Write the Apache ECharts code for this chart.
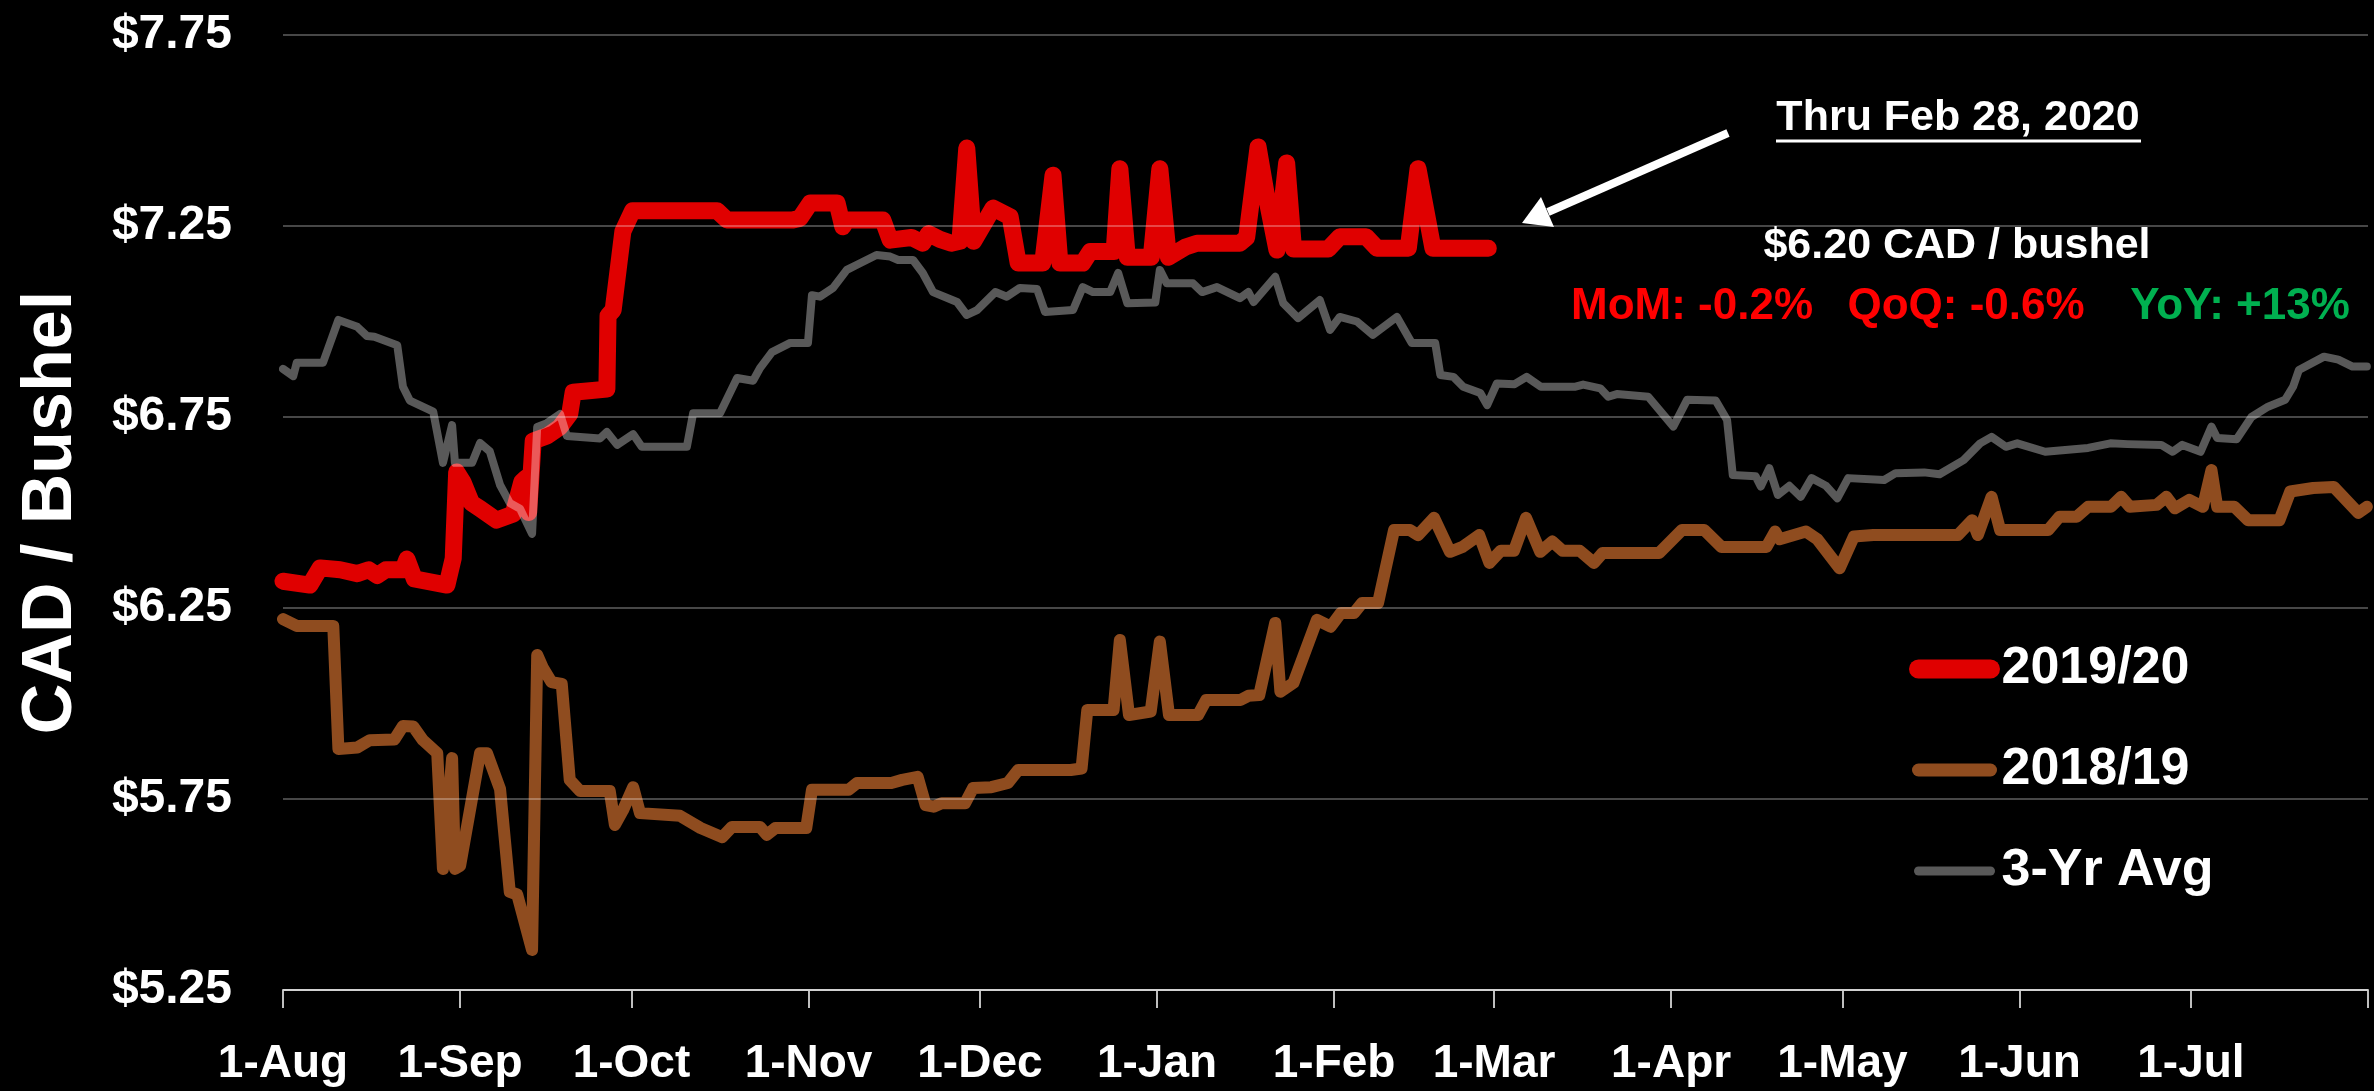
<!DOCTYPE html>
<html>
<head>
<meta charset="utf-8">
<script src="https://cdn.jsdelivr.net/npm/echarts@6/dist/echarts.min.js"></script>
<style>
  html, body { margin: 0; padding: 0; background: #000; }
  #chart { width: 2374px; height: 1091px; }
</style>
</head>
<body>
<div id="chart"></div>
<script>
// Crop-year calendar: day 0 = 1 Aug, day 365 = 1 Aug of the next year
const monthTickDays = [0, 31, 61, 92, 122, 153, 184, 212, 243, 273, 304, 334];
const monthTickLabels = ['1-Aug', '1-Sep', '1-Oct', '1-Nov', '1-Dec', '1-Jan',
                         '1-Feb', '1-Mar', '1-Apr', '1-May', '1-Jun', '1-Jul'];
const yearEndDay = 365;
const priceTicks = [5.25, 5.75, 6.25, 6.75, 7.25, 7.75];

// 2019/20 season, CAD per bushel (through 28 Feb)
const days1920 = [0, 4.7, 6.5, 10, 13, 15, 16.5, 18, 21, 21.7, 23, 28.7, 29.8, 30.4, 31.5, 33, 34.5, 37.4, 40.3,
  41.8, 42.5, 43, 43.8, 46.2, 48.5, 50.2, 50.8, 56.7, 56.9, 57.8, 59.5, 61.2, 76, 77.7, 89.3, 90.5, 92.3, 97,
  98, 98.7, 105, 106.3, 110, 112, 113, 115, 117, 118.5, 119.7, 120.9, 124.3, 127.3, 128.7, 133, 134.8, 136,
  140, 141.3, 145.5, 146.5, 147.8, 152, 153.5, 155, 158, 160, 167.5, 168.7, 170.7, 172.5, 174, 175.7, 176.9,
  183, 185, 189.6, 191.5, 197, 198.7, 201.3, 211];
const price1920 = [6.32, 6.31, 6.355, 6.35, 6.34, 6.35, 6.335, 6.35, 6.35, 6.378, 6.326, 6.31, 6.38, 6.606, 6.58,
  6.525, 6.51, 6.48, 6.496, 6.58, 6.59, 6.50, 6.687, 6.70, 6.724, 6.758, 6.815, 6.823, 7.015, 7.03, 7.236, 7.29,
  7.29, 7.266, 7.266, 7.27, 7.31, 7.31, 7.248, 7.266, 7.266, 7.213, 7.22, 7.205, 7.23, 7.215, 7.205, 7.21, 7.454,
  7.21, 7.297, 7.274, 7.153, 7.153, 7.383, 7.153, 7.153, 7.183, 7.183, 7.40, 7.168, 7.168, 7.40, 7.168, 7.195,
  7.205, 7.205, 7.22, 7.457, 7.30, 7.187, 7.415, 7.19, 7.19, 7.222, 7.222, 7.192, 7.192, 7.40, 7.192, 7.192];

// 2018/19 season
const days1819 = [0, 2.4, 8.8, 9.7, 13, 15.2, 19.5, 21, 22.8, 24.5, 27, 28, 29.6, 30.1, 31, 34.5, 35.7, 38, 39.7,
  41, 43.6, 44.5, 45.5, 47, 48.8, 50.2, 52, 57.2, 58.1, 59.5, 61.3, 62.5, 69.5, 73.1, 76.9, 78.6, 83.5, 84.7,
  86.2, 91.6, 92.6, 99, 100.5, 106.5, 108.4, 111.1, 112.5, 113.9, 115.3, 119.4, 120.8, 124, 126.9, 128.7,
  137.9, 139.8, 140.8, 145.4, 146.5, 148.1, 151.9, 153.5, 155.1, 160.2, 161.6, 167.6, 169, 170.9, 173.7,
  174.6, 176.9, 181, 183.4, 185.2, 187.5, 188.9, 191.7, 194.5, 197.3, 198.7, 201.5, 204.3, 206.5, 209.4,
  211.2, 213.2, 215.5, 217.6, 220.1, 222.2, 224, 227, 229.5, 231, 240.9, 244.9, 248.8, 251.8, 259.7, 261.2,
  262, 266.6, 268.6, 272.5, 275, 278.4, 293.2, 295.7, 296.7, 299.1, 300.6, 309, 311, 314, 316, 320, 321.8,
  323.3, 328, 329.7, 331.2, 333.7, 336.1, 337.6, 338.6, 341.6, 344, 349.5, 351.4, 355.4, 359, 363.3, 364.8];
const price1819 = [6.221, 6.203, 6.203, 5.881, 5.885, 5.904, 5.906, 5.941, 5.94, 5.904, 5.87, 5.567, 5.857, 5.567,
  5.575, 5.87, 5.87, 5.776, 5.507, 5.50, 5.355, 6.127, 6.093, 6.056, 6.051, 5.80, 5.771, 5.771, 5.682, 5.72,
  5.781, 5.713, 5.706, 5.674, 5.65, 5.677, 5.677, 5.656, 5.674, 5.674, 5.774, 5.774, 5.792, 5.792, 5.80, 5.808,
  5.734, 5.73, 5.739, 5.739, 5.779, 5.781, 5.792, 5.826, 5.826, 5.83, 5.983, 5.983, 6.166, 5.97, 5.979, 6.162,
  5.97, 5.97, 6.009, 6.009, 6.02, 6.022, 6.211, 6.031, 6.054, 6.219, 6.201, 6.237, 6.237, 6.263, 6.263, 6.454,
  6.454, 6.441, 6.486, 6.397, 6.41, 6.441, 6.368, 6.40, 6.40, 6.486, 6.397, 6.424, 6.40, 6.40, 6.368, 6.394,
  6.394, 6.454, 6.454, 6.41, 6.41, 6.45, 6.43, 6.45, 6.43, 6.354, 6.437, 6.441, 6.441, 6.48, 6.441, 6.541,
  6.454, 6.454, 6.489, 6.489, 6.515, 6.515, 6.541, 6.515, 6.52, 6.541, 6.511, 6.533, 6.515, 6.611, 6.515,
  6.515, 6.48, 6.48, 6.555, 6.564, 6.567, 6.499, 6.515];

// Three-year average
const daysAvg = [0, 1.8, 2.4, 7, 9.7, 13, 14.7, 16, 20, 21, 22.2, 26.3, 28, 29.6, 30.1, 33.1, 34.5, 36.2, 38, 39.7,
  41.5, 43.6, 44.5, 46.2, 48.5, 49.7, 55.5, 56.7, 58.5, 61.3, 62.8, 70.7, 71.8, 76.5, 79.5, 82.3, 83.5, 85.6,
  88.8, 91.9, 92.6, 94, 96.3, 98.7, 100.4, 103.9, 106.3, 107.7, 110.3, 112, 113.8, 118, 119.7, 121.5, 124.7,
  126.7, 129, 132, 133.4, 138.3, 140, 141.8, 144.8, 146.2, 147.8, 152.7, 153.5, 154.7, 159.3, 160.9, 163.5,
  167.5, 169, 169.9, 173.7, 175.1, 177.7, 181.5, 183.3, 185, 188, 190.8, 195, 197.6, 201.7, 202.6, 204.9,
  206.6, 209.6, 210.8, 212.5, 215.6, 217.7, 220.2, 226.1, 227.6, 230.6, 232, 233.5, 239, 243.4, 245.8, 250.8,
  252.8, 253.8, 257.8, 258.7, 260.2, 261.7, 263.7, 265.7, 267.6, 270.1, 272.1, 274, 280.3, 282.3, 287.3, 290,
  294.2, 297.1, 299.1, 301.6, 303.6, 308.5, 316, 319.9, 322.9, 328.8, 330.8, 332.5, 335.7, 337.6, 338.6, 342,
  344.6, 347.5, 350.5, 351.9, 352.9, 357.3, 359.8, 362.3, 364.8];
const priceAvg = [6.876, 6.857, 6.892, 6.892, 7.004, 6.986, 6.962, 6.96, 6.938, 6.829, 6.793, 6.764, 6.63, 6.729,
  6.63, 6.63, 6.682, 6.66, 6.572, 6.525, 6.51, 6.444, 6.724, 6.734, 6.758, 6.70, 6.694, 6.711, 6.677, 6.705,
  6.672, 6.672, 6.76, 6.76, 6.852, 6.845, 6.878, 6.92, 6.944, 6.944, 7.069, 7.065, 7.088, 7.135, 7.148, 7.174,
  7.17, 7.161, 7.161, 7.127, 7.077, 7.051, 7.017, 7.03, 7.077, 7.065, 7.088, 7.085, 7.025, 7.03, 7.09, 7.077,
  7.077, 7.127, 7.048, 7.05, 7.135, 7.10, 7.10, 7.077, 7.09, 7.061, 7.077, 7.051, 7.117, 7.048, 7.009, 7.056,
  6.978, 7.012, 7.0, 6.965, 7.012, 6.944, 6.944, 6.86, 6.855, 6.829, 6.813, 6.781, 6.838, 6.836, 6.855, 6.829,
  6.829, 6.835, 6.825, 6.803, 6.81, 6.803, 6.725, 6.795, 6.793, 6.742, 6.598, 6.595, 6.568, 6.616, 6.546, 6.57,
  6.541, 6.59, 6.57, 6.537, 6.59, 6.585, 6.603, 6.605, 6.60, 6.637, 6.681, 6.698, 6.672, 6.681, 6.659, 6.669,
  6.681, 6.679, 6.677, 6.659, 6.677, 6.659, 6.725, 6.695, 6.692, 6.75, 6.777, 6.795, 6.83, 6.873, 6.908, 6.90,
  6.882, 6.882];

const FONT = '"Liberation Sans", Arial, sans-serif';
const pairs = (xs, ys) => xs.map((x, i) => [x, ys[i]]);
const labelFor = v => monthTickLabels[monthTickDays.indexOf(v)] || '';

const RED = '#e00000';
const BROWN = '#8f4c1f';
const GREY = 'rgba(255,255,255,0.35)';

const chart = echarts.init(document.getElementById('chart'), null, { renderer: 'canvas' });

function note(text, x, y, color, size) {
  return {
    type: 'text', z: 20,
    style: { text: text, x: x, y: y, fill: color,
             font: 'bold ' + size + 'px ' + FONT, align: 'center', verticalAlign: 'middle',
             textAlign: 'center', textVerticalAlign: 'middle' }
  };
}

chart.setOption({
  backgroundColor: '#000000',
  animation: false,
  textStyle: { fontFamily: FONT },
  grid: { left: 283, right: 6, top: 35, bottom: 101, containLabel: false },
  xAxis: {
    type: 'value',
    min: 0,
    max: yearEndDay,
    axisLine: { show: true, lineStyle: { color: '#bfbfbf', width: 2 } },
    axisTick: {
      show: true,
      customValues: monthTickDays.concat([yearEndDay]),
      length: 18,
      lineStyle: { color: '#bfbfbf', width: 2 }
    },
    axisLabel: {
      customValues: monthTickDays,
      formatter: labelFor,
      color: '#ffffff',
      fontSize: 46,
      fontWeight: 'bold',
      fontFamily: FONT,
      margin: 51
    },
    splitLine: { show: false }
  },
  yAxis: {
    type: 'value',
    min: 5.25,
    max: 7.75,
    z: 5,
    name: 'CAD / Bushel',
    nameLocation: 'middle',
    nameRotate: 90,
    nameGap: 196,
    nameTextStyle: { color: '#ffffff', fontSize: 70, fontWeight: 'bold', fontFamily: FONT },
    axisLine: { show: false },
    axisTick: { show: false, customValues: priceTicks },
    axisLabel: {
      customValues: priceTicks,
      formatter: v => '$' + v.toFixed(2),
      color: '#ffffff',
      fontSize: 48,
      fontWeight: 'bold',
      fontFamily: FONT,
      margin: 51
    },
    splitLine: { show: true, lineStyle: { color: 'rgba(255,255,255,0.28)', width: 2 } }
  },
  legend: {
    orient: 'vertical',
    left: 1909,
    top: 643,
    padding: 0,
    itemWidth: 72,
    itemHeight: 30,
    itemGap: 49,
    itemStyle: { opacity: 0 },
    textStyle: { color: '#ffffff', fontSize: 52, fontWeight: 'bold', lineHeight: 30,
                 fontFamily: FONT, padding: [0, 0, 0, 6] },
    data: [
      { name: '2019/20', lineStyle: { width: 19, cap: 'round', color: RED } },
      { name: '2018/19', lineStyle: { width: 13, cap: 'round', color: BROWN } },
      { name: '3-Yr Avg', lineStyle: { width: 9, cap: 'round', color: GREY } }
    ]
  },
  series: [
    {
      name: '2019/20',
      type: 'line',
      data: pairs(days1920, price1920),
      showSymbol: false,
      symbol: 'circle',
      z: 3,
      lineStyle: { color: RED, width: 17, cap: 'round', join: 'round' },
      itemStyle: { color: RED }
    },
    {
      name: '2018/19',
      type: 'line',
      data: pairs(days1819, price1819),
      showSymbol: false,
      symbol: 'circle',
      z: 2,
      lineStyle: { color: BROWN, width: 12, cap: 'round', join: 'round' },
      itemStyle: { color: BROWN }
    },
    {
      name: '3-Yr Avg',
      type: 'line',
      data: pairs(daysAvg, priceAvg),
      showSymbol: false,
      symbol: 'circle',
      z: 4,
      lineStyle: { color: GREY, width: 8, cap: 'round', join: 'round' },
      itemStyle: { color: GREY }
    }
  ],
  graphic: [
    // "Thru" note with underline
    note('Thru Feb 28, 2020', 1958, 118, '#ffffff', 43),
    {
      type: 'line', z: 20,
      shape: { x1: 1776, y1: 141, x2: 2141, y2: 141 },
      style: { stroke: '#ffffff', lineWidth: 3 }
    },
    // pointer to the last 2019/20 price
    {
      type: 'line', z: 20,
      shape: { x1: 1728, y1: 133, x2: 1548, y2: 212 },
      style: { stroke: '#ffffff', lineWidth: 8 }
    },
    {
      type: 'polygon', z: 20,
      shape: { points: [[1522, 223], [1541, 197], [1554, 227]] },
      style: { fill: '#ffffff' }
    },
    note('$6.20 CAD / bushel', 1957, 246, '#ffffff', 43),
    note('MoM: -0.2%', 1692, 307, '#ff0000', 44),
    note('QoQ: -0.6%', 1966, 307, '#ff0000', 44),
    note('YoY: +13%', 2240, 307, '#00b050', 44)
  ]
});
</script>
</body>
</html>
